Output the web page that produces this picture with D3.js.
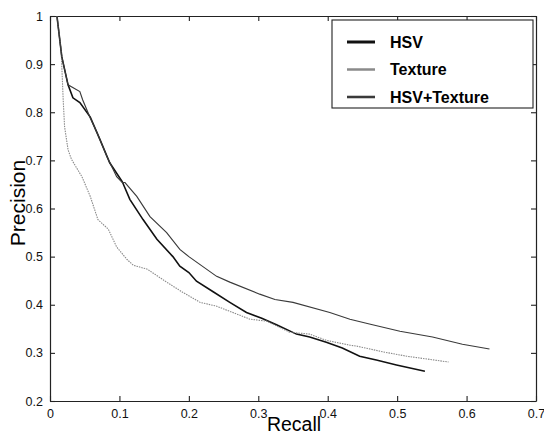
<!DOCTYPE html>
<html>
<head>
<meta charset="utf-8">
<script src="https://cdnjs.cloudflare.com/ajax/libs/d3/7.8.5/d3.min.js"></script>
<style>
  body { margin: 0; background: #fff; }
  svg { font-family: "Liberation Sans", Arial, Helvetica, sans-serif; }
</style>
</head>
<body>
<div id="chart"></div>
<script>
// values (recall, precision)
const seriesNames = ["HSV", "Texture", "HSV+Texture"];

const hsvRecall = [0.01, 0.017, 0.026, 0.033, 0.043, 0.058, 0.072, 0.086, 0.104, 0.115, 0.134, 0.154, 0.177, 0.187, 0.2, 0.211, 0.235, 0.259, 0.283, 0.305, 0.327, 0.355, 0.374, 0.398, 0.421, 0.446, 0.47, 0.499, 0.54];
const hsvPrecision = [1.0, 0.915, 0.857, 0.83, 0.82, 0.79, 0.743, 0.695, 0.656, 0.619, 0.577, 0.536, 0.5, 0.48, 0.467, 0.449, 0.427, 0.405, 0.384, 0.372, 0.358, 0.339, 0.333, 0.322, 0.31, 0.293, 0.285, 0.275, 0.262];

const texRecall = [0.01, 0.016, 0.019, 0.021, 0.026, 0.031, 0.046, 0.058, 0.069, 0.084, 0.096, 0.111, 0.12, 0.14, 0.168, 0.191, 0.216, 0.24, 0.288, 0.312, 0.345, 0.374, 0.398, 0.432, 0.442, 0.48, 0.514, 0.574];
const texPrecision = [1.0, 0.93, 0.826, 0.77, 0.722, 0.702, 0.666, 0.625, 0.577, 0.557, 0.52, 0.494, 0.482, 0.474, 0.447, 0.426, 0.405, 0.397, 0.37, 0.366, 0.343, 0.339, 0.326, 0.316, 0.314, 0.302, 0.293, 0.281];

const comboRecall = [0.01, 0.017, 0.026, 0.043, 0.047, 0.058, 0.068, 0.082, 0.096, 0.104, 0.108, 0.125, 0.144, 0.168, 0.187, 0.2, 0.24, 0.259, 0.302, 0.324, 0.35, 0.403, 0.432, 0.46, 0.504, 0.551, 0.594, 0.633];
const comboPrecision = [1.0, 0.915, 0.857, 0.843, 0.826, 0.788, 0.757, 0.708, 0.666, 0.654, 0.654, 0.625, 0.583, 0.55, 0.515, 0.5, 0.459, 0.447, 0.422, 0.411, 0.405, 0.384, 0.37, 0.36, 0.345, 0.333, 0.318, 0.308];

const xTicks = [0, 0.1, 0.2, 0.3, 0.4, 0.5, 0.6, 0.7];
const yTicks = [0.2, 0.3, 0.4, 0.5, 0.6, 0.7, 0.8, 0.9, 1];

const W = 544, H = 436;
const margin = {left: 50, right: 8, top: 16, bottom: 35};

const svg = d3.select("#chart").append("svg")
    .attr("width", W)
    .attr("height", H);

const x = d3.scaleLinear().domain([0, 0.7]).range([margin.left, W - margin.right]);
const y = d3.scaleLinear().domain([0.2, 1]).range([H - margin.bottom, margin.top]);

// axes, MATLAB style: box with inward ticks on all four sides
svg.append("g")
    .attr("transform", `translate(0,${y(0.2)})`)
    .call(d3.axisBottom(x).tickValues(xTicks).tickSizeInner(-5).tickSizeOuter(0).tickPadding(8)
        .tickFormat(d => d === 0 ? "0" : d3.format(".1f")(d)));
svg.append("g")
    .attr("transform", `translate(0,${y(1)})`)
    .call(d3.axisTop(x).tickValues(xTicks).tickSizeInner(-5).tickSizeOuter(0).tickFormat(""));
svg.append("g")
    .attr("transform", `translate(${x(0)},0)`)
    .call(d3.axisLeft(y).tickValues(yTicks).tickSizeInner(-5).tickSizeOuter(0).tickPadding(7)
        .tickFormat(d => d === 1 ? "1" : d3.format(".1f")(d)));
svg.append("g")
    .attr("transform", `translate(${x(0.7)},0)`)
    .call(d3.axisRight(y).tickValues(yTicks).tickSizeInner(-5).tickSizeOuter(0).tickFormat(""));

svg.selectAll(".domain").attr("stroke", "#222").attr("stroke-width", 1.2);
svg.selectAll(".tick line").attr("stroke", "#222").attr("stroke-width", 1.1);
svg.selectAll(".tick text").attr("font-size", 12.5).attr("fill", "#111")
    .attr("font-family", "Liberation Sans, Arial, sans-serif");

// axis titles
svg.append("text")
    .attr("x", 294).attr("y", 431)
    .attr("text-anchor", "middle")
    .attr("font-size", 19.5)
    .text("Recall");
svg.append("text")
    .attr("transform", "translate(25,203) rotate(-90)")
    .attr("text-anchor", "middle")
    .attr("font-size", 21)
    .text("Precision");

const line = d3.line().x(d => x(d[0])).y(d => y(d[1]));

const series = [
  {name: seriesNames[0], data: d3.zip(hsvRecall, hsvPrecision), color: "#111", width: 1.6, dash: null},
  {name: seriesNames[1], data: d3.zip(texRecall, texPrecision), color: "#8a8a8a", width: 1.1, dash: "1.5,1"},
  {name: seriesNames[2], data: d3.zip(comboRecall, comboPrecision), color: "#3a3a3a", width: 1.15, dash: null}
];

svg.append("g").selectAll("path")
    .data(series)
    .join("path")
    .attr("d", d => line(d.data))
    .attr("fill", "none")
    .attr("stroke", d => d.color)
    .attr("stroke-width", d => d.width)
    .attr("stroke-dasharray", d => d.dash);

// legend
const legend = svg.append("g").attr("transform", "translate(332,20)");
legend.append("rect")
    .attr("width", 201).attr("height", 88)
    .attr("fill", "#fff")
    .attr("stroke", "#222").attr("stroke-width", 1.1);

const rows = legend.selectAll(".row")
    .data(series)
    .join("g")
    .attr("class", "row")
    .attr("transform", (d, i) => `translate(0,${22 + i * 27.5})`);
rows.append("line")
    .attr("x1", 15).attr("x2", 43)
    .attr("stroke", d => d.color)
    .attr("stroke-width", d => d.width + 1.4);
rows.append("text")
    .attr("x", 58).attr("dy", "0.35em")
    .attr("font-size", 16).attr("font-weight", "bold")
    .text(d => d.name);
</script>
</body>
</html>
